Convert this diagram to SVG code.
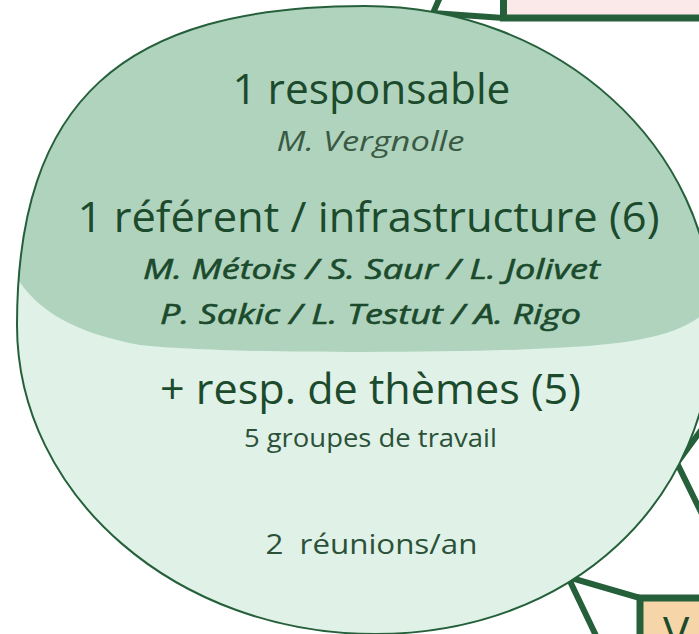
<svg xmlns="http://www.w3.org/2000/svg" width="699" height="634" viewBox="0 0 699 634">
  <style>
    .conn { fill: none; stroke: #25603b; stroke-width: 6; stroke-linejoin: miter; stroke-linecap: butt; }
    .box { stroke: #25603b; stroke-width: 7; }
    .t { font-family: "Open Sans", "Noto Sans", "Liberation Sans", sans-serif; text-anchor: middle; }
    .big { font-size: 42px; fill: #1b4a2c; }
    .name { font-size: 27px; font-style: italic; fill: #3a5a44; }
    .names { font-size: 28px; font-style: italic; font-weight: 400; fill: #1b4a2c; stroke: #1b4a2c; stroke-width: 0.6px; }
    .small { font-size: 26px; fill: #2b5238; }
  </style>
  <defs>
    <path id="ell" d="M 17,325 C 17,102 121,6 365,6 C 557,6 713,147 713,320 C 713,502 571,634 375,634 C 177,634 17,496 17,325 Z"/>
    <clipPath id="ellClip"><use href="#ell"/></clipPath>
  </defs>

  <g id="node-top-box">
    <rect class="box" x="503.5" y="-120" width="300" height="138" fill="#fbe9e9"/>
  </g>
  <g id="node-bottom-box">
    <rect class="box" x="640" y="598" width="200" height="120" fill="#f6d6a8"/>
    <text class="t" x="663" y="648" style="text-anchor:start;font-size:44px;fill:#1b4a2c">V</text>
  </g>

  <g id="connectors">
    <polyline class="conn" points="452,-30 433,13 503.5,18"/>
    <polyline class="conn" points="721,403 677,463 721,553"/>
    <polyline class="conn" points="640,598 568,577 610,665"/>
  </g>

  <g id="node-circle">
    <use href="#ell" fill="#e0f1e7"/>
    <path clip-path="url(#ellClip)" fill="#afd3bd" d="M 5,250 C 20,300 60,330 140,345 C 220,354 470,354 570,347 C 640,343 695,333 715,300 L 760,300 L 760,-30 L -20,-30 L -20,250 Z"/>
    <use href="#ell" fill="none" stroke="#25603b" stroke-width="2"/>

    <text class="t big" x="371.4" y="104" textLength="278" lengthAdjust="spacingAndGlyphs">1 responsable</text>
    <text class="t name" x="370.5" y="151" textLength="188" lengthAdjust="spacingAndGlyphs">M. Vergnolle</text>
    <text class="t big" x="368.5" y="232" textLength="582" lengthAdjust="spacingAndGlyphs">1 référent / infrastructure (6)</text>
    <text class="t names" x="371.4" y="278.5" textLength="457" lengthAdjust="spacingAndGlyphs">M. Métois / S. Saur / L. Jolivet</text>
    <text class="t names" x="370.5" y="323.5" textLength="421" lengthAdjust="spacingAndGlyphs">P. Sakic / L. Testut / A. Rigo</text>
    <text class="t big" x="370.5" y="403.5" textLength="421" lengthAdjust="spacingAndGlyphs">+ resp. de thèmes (5)</text>
    <text class="t small" x="370.4" y="447" textLength="253" lengthAdjust="spacingAndGlyphs">5 groupes de travail</text>
    <text class="t small" x="371.4" y="553.5" textLength="212" lengthAdjust="spacingAndGlyphs" style="white-space:pre;font-size:28px" xml:space="preserve">2  réunions/an</text>
  </g>
</svg>
